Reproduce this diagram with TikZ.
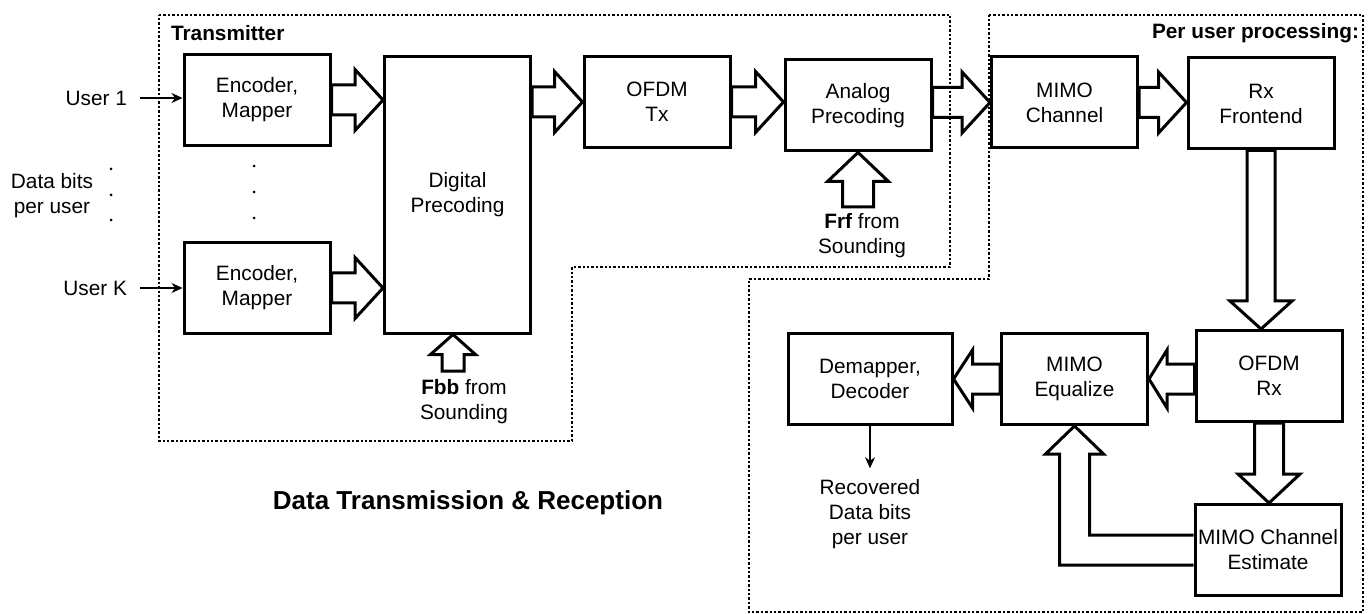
\documentclass[tikz,border=0pt]{standalone}
\usepackage{fontspec}
\setmainfont{Liberation Sans}
\usetikzlibrary{calc,arrows.meta,positioning}

\tikzset{
  box/.style={draw, line width=1.5pt, align=center, inner sep=0pt, minimum width=73pt, minimum height=45.5pt},
  fatline/.style={line width=1.5pt, line join=miter},
  region/.style={line width=1.35pt, dash pattern=on 1.2pt off 1pt},
  thinarrow/.style={line width=1.1pt, -{Stealth[length=5.5pt,width=5pt]}},
}

% hollow block arrow: from, to, shaft half width, wing half width, head length
\newcommand{\fatarrow}[5]{%
  \coordinate (fa-base) at ($(#2)!#5!(#1)$);
  \draw[fatline] ($(#1)!#3!90:(#2)$) -- ($(fa-base)!#3!90:(#2)$) -- ($(fa-base)!#4!90:(#2)$)
    -- (#2) -- ($(fa-base)!#4!-90:(#2)$) -- ($(fa-base)!#3!-90:(#2)$) -- ($(#1)!#3!-90:(#2)$) -- cycle;}

\begin{document}
\begin{tikzpicture}[x=0.5pt, y=-0.5pt, font=\fontsize{10.4}{12.5}\selectfont]
  \useasboundingbox (0,0) rectangle (1368,614);

  % Transmitter blocks
  \node[box] (enc1) at (257,100) {Encoder,\\Mapper};
  \node[box] (enc2) at (257,288) {Encoder,\\Mapper};
  \node[box, minimum height=138pt] (dig) at (457.5,195) {Digital\\Precoding};
  \node[box] (ofdmtx) at (657,102) {OFDM\\Tx};
  \node[box] (analog) at (858,105.5) {Analog\\Precoding};

  % Channel and receiver blocks
  \node[box] (mimoch) at (1064.5,102.5) {MIMO\\Channel};
  \node[box] (rxfe) at (1261,103.5) {Rx\\Frontend};
  \node[box] (ofdmrx) at (1269,376) {OFDM\\Rx};
  \node[box] (equal) at (1074.5,379) {MIMO\\Equalize};
  \node[box, minimum width=82pt] (demap) at (870,379) {Demapper,\\Decoder};
  \node[box] (est) at (1268,550) {MIMO Channel\\Estimate};

  % Region labels
  \node[anchor=west] (txlabel) at (164,33) {\textbf{Transmitter}};
  \node[anchor=east] (rxlabel) at (1366,33) {\textbf{Per user processing:}};

  % User inputs
  \node[anchor=east] (user1) at (134,98) {User 1};
  \node[anchor=east] (userk) at (134,288) {User K};
  \node[align=center] (bits) at (52,196) {Data bits\\per user};
  \draw[thinarrow, shorten <=3pt] (user1.east) -- (enc1.west |- user1.east);
  \draw[thinarrow, shorten <=3pt] (userk.east) -- (enc2.west |- userk.east);
  \foreach \y in {169,195,220} \fill (111,\y) circle (0.75pt);
  \foreach \y in {166,192,218} \fill (254,\y) circle (0.75pt);

  % Forward data path
  \fatarrow{enc1.east}{dig.west |- enc1.east}{7.5pt}{15.25pt}{14pt}
  \fatarrow{enc2.east}{dig.west |- enc2.east}{7.5pt}{15.25pt}{14pt}
  \fatarrow{dig.east |- ofdmtx.west}{ofdmtx.west}{7.5pt}{15.25pt}{14pt}
  \fatarrow{ofdmtx.east}{analog.west |- ofdmtx.east}{7.5pt}{15.25pt}{14pt}
  \fatarrow{analog.east |- mimoch.west}{mimoch.west}{7.5pt}{15.25pt}{14pt}
  \fatarrow{mimoch.east}{rxfe.west |- mimoch.east}{7.5pt}{15.25pt}{14pt}
  \fatarrow{rxfe.south}{rxfe.south |- ofdmrx.north}{7pt}{15.5pt}{14pt}
  \fatarrow{ofdmrx.south}{ofdmrx.south |- est.north}{7.25pt}{15.5pt}{14.5pt}
  \fatarrow{ofdmrx.west |- equal.east}{equal.east}{7.5pt}{14.5pt}{9pt}
  \fatarrow{equal.west}{demap.east |- equal.west}{7.5pt}{14.5pt}{9.5pt}

  % Precoder inputs from sounding
  \coordinate (fbbtail) at (453,371);
  \fatarrow{fbbtail}{fbbtail |- dig.south}{5.5pt}{11.25pt}{10pt}
  \node[align=center] (fbbtext) at (464,401.5) {\textbf{Fbb} from\\Sounding};
  \coordinate (frftail) at (858,207);
  \fatarrow{frftail}{analog.south}{7.75pt}{15.25pt}{14.5pt}
  \node[align=center] (frftext) at (862,235.5) {\textbf{Frf} from\\Sounding};

  % Channel estimate feedback
  \coordinate (fbcorner) at (equal.south |- est.west);
  \draw[fatline] ([yshift=7.5pt]est.west) -- ([xshift=7.5pt,yshift=7.5pt]fbcorner)
    -- ([xshift=7.5pt,yshift=-14pt]equal.south) -- ([xshift=14.5pt,yshift=-14pt]equal.south)
    -- (equal.south) -- ([xshift=-14.5pt,yshift=-14pt]equal.south)
    -- ([xshift=-7.5pt,yshift=-14pt]equal.south) -- ([xshift=-7.5pt,yshift=-7.5pt]fbcorner)
    -- ([yshift=-7.5pt]est.west);

  % Output bits
  \node[align=center] (recov) at (870,514) {Recovered\\Data bits\\per user};
  \draw[thinarrow, shorten >=2pt] (demap.south) -- (recov.north);

  \node[font=\fontsize{13}{15}\selectfont\bfseries] (title) at (468,503) {Data Transmission \& Reception};

  % Dotted regions
  \draw[region] (159,15) -- (950,15) -- (950,267) -- (572,267) -- (572,441) -- (159,441) -- cycle;
  \draw[region] (989,15) -- (1363,15) -- (1363,612) -- (749,612) -- (749,279) -- (989,279) -- cycle;
\end{tikzpicture}
\end{document}
